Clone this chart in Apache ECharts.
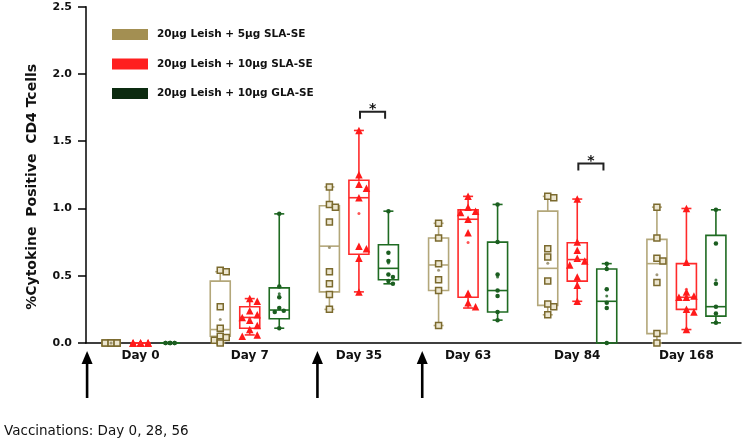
<!DOCTYPE html>
<html>
<head>
<meta charset="utf-8">
<script src="https://cdn.jsdelivr.net/npm/echarts@6/dist/echarts.min.js"></script>
<style>html,body{margin:0;padding:0;background:#fff}#c{width:744px;height:440px}</style>
</head>
<body>
<div id="c"></div>
<script>
// ---------- DATA ----------
const categories = ['Day 0', 'Day 7', 'Day 35', 'Day 63', 'Day 84', 'Day 168'];
const seriesNames = ['20μg Leish + 5μg SLA-SE', '20μg Leish + 10μg SLA-SE', '20μg Leish + 10μg GLA-SE'];
const yTicks = [0, 0.5, 1.0, 1.5, 2.0, 2.5];

// box stats per category: [min, q1, median, q3, max]
const tanBox = [
  [0, 0, 0, 0, 0],
  [0.0, 0.05, 0.10, 0.46, 0.53],
  [0.25, 0.38, 0.72, 1.02, 1.16],
  [0.13, 0.39, 0.58, 0.78, 0.89],
  [0.21, 0.28, 0.555, 0.98, 1.09],
  [0.0, 0.07, 0.59, 0.77, 1.01]
];
const redBox = [
  [0, 0, 0, 0, 0],
  [0.06, 0.11, 0.19, 0.27, 0.33],
  [0.38, 0.66, 1.08, 1.21, 1.58],
  [0.26, 0.34, 0.92, 0.99, 1.09],
  [0.31, 0.46, 0.62, 0.745, 1.07],
  [0.10, 0.25, 0.34, 0.59, 1.0]
];
const greenBox = [
  [0, 0, 0, 0, 0],
  [0.11, 0.18, 0.245, 0.41, 0.96],
  [0.44, 0.47, 0.555, 0.73, 0.98],
  [0.17, 0.23, 0.39, 0.75, 1.03],
  [0.0, 0.0, 0.31, 0.55, 0.59],
  [0.15, 0.20, 0.27, 0.80, 0.99]
];

// individual animals per category
const tanPoints = [
  [0, 0, 0, 0, 0, 0, 0, 0],
  [0.54, 0.53, 0.27, 0.11, 0.05, 0.04, 0.02, 0.01, 0.0],
  [1.16, 1.03, 1.01, 0.90, 0.53, 0.44, 0.36, 0.25],
  [0.89, 0.78, 0.59, 0.47, 0.39, 0.13],
  [1.09, 1.08, 0.70, 0.64, 0.46, 0.29, 0.27, 0.21],
  [1.01, 0.78, 0.63, 0.61, 0.45, 0.07, 0.0]
];
const redPoints = [
  [0, 0, 0, 0, 0, 0, 0, 0, 0],
  [0.33, 0.31, 0.24, 0.21, 0.19, 0.17, 0.13, 0.10, 0.06, 0.05],
  [1.58, 1.25, 1.18, 1.15, 1.08, 0.72, 0.70, 0.63, 0.38],
  [1.09, 1.01, 0.98, 0.97, 0.92, 0.82, 0.37, 0.30, 0.27],
  [1.07, 0.75, 0.69, 0.63, 0.61, 0.58, 0.49, 0.43, 0.31],
  [1.0, 0.60, 0.38, 0.35, 0.34, 0.34, 0.25, 0.23, 0.10]
];
const greenPoints = [
  [0, 0, 0, 0, 0, 0, 0],
  [0.96, 0.42, 0.34, 0.26, 0.24, 0.23, 0.11],
  [0.98, 0.67, 0.61, 0.51, 0.49, 0.46, 0.44],
  [1.03, 0.75, 0.51, 0.39, 0.35, 0.23, 0.17],
  [0.59, 0.55, 0.40, 0.30, 0.26, 0.0],
  [0.99, 0.74, 0.44, 0.27, 0.22, 0.15]
];

// significance brackets (category index, bracket height)
const sigCategories = [2, 4];
const sigHeights = [1.72, 1.335];
// vaccination arrows, in category-axis units
const vaccinationMarks = [-0.49, 1.62, 2.58];
const footnote = 'Vaccinations: Day 0, 28, 56';

// ---------- LAYOUT / STYLE ----------
const FONT = '"DejaVu Sans", sans-serif';
const grid = { left: 86, right: 3, top: 6.7, bottom: 97 };
const W = 744, H = 440;
const pxPerBand = (W - grid.left - grid.right) / categories.length;
const pxPerY = (H - grid.top - grid.bottom) / 2.5;
const groupOffset = 29.5 / pxPerBand;   // band units between groups
const boxWidthBand = 20 / pxPerBand;

const groups = [
  { name: seriesNames[0], box: tanBox, pts: tanPoints, boxColor: '#b3a77a', legend: '#a38f52',
    symbol: 'rect', size: 6, fill: '#ece6d0', border: '#7b6a2e', bw: 1.5, meanColor: '#8a7f5a' },
  { name: seriesNames[1], box: redBox, pts: redPoints, boxColor: '#ff2a2a', legend: '#ff1f1f',
    symbol: 'triangle', size: 7.5, fill: '#ff1a1a', border: '#ff1a1a', bw: 0, meanColor: '#ff2a2a' },
  { name: seriesNames[2], box: greenBox, pts: greenPoints, boxColor: '#1f6b22', legend: '#0c2b10',
    symbol: 'circle', size: 4.5, fill: '#1b5e20', border: '#1b5e20', bw: 0, meanColor: '#1b5e20' }
];

// simple deterministic beeswarm: spread overlapping points sideways
function swarm(vals, size) {
  const order = vals.map((v, i) => i).sort((a, b) => vals[b] - vals[a]);
  const placed = [];
  const out = new Array(vals.length).fill(0);
  const d = size * 1.0;
  const cands = [0, d, -d];
  order.forEach(i => {
    const y = vals[i] * pxPerY;
    let best = 0, bestHits = Infinity;
    for (const c of cands) {
      let hits = 0;
      for (const p of placed) {
        if (Math.hypot(p[0] - c, p[1] - y) < size * 0.9) hits++;
      }
      if (hits < bestHits) { bestHits = hits; best = c; }
      if (hits === 0) break;
    }
    placed.push([best, y]);
    out[i] = best;
  });
  return out;
}

const series = [];
groups.forEach((g, gi) => {
  const off = (gi - 1) * groupOffset;
  // boxes
  series.push({
    name: g.name,
    type: 'custom',
    xAxisIndex: 1,
    yAxisIndex: 0,
    z: 2,
    clip: false,
    data: g.box.map((b, ci) => [ci + off].concat(b)),
    encode: { x: 0, y: [1, 2, 3, 4, 5] },
    renderItem: function (params, api) {
      const x = api.value(0);
      const pMin = api.coord([x, api.value(1)]);
      const pQ1 = api.coord([x, api.value(2)]);
      const pMed = api.coord([x, api.value(3)]);
      const pQ3 = api.coord([x, api.value(4)]);
      const pMax = api.coord([x, api.value(5)]);
      const half = api.size([boxWidthBand, 0])[0] / 2;
      const cap = 5;
      const cx = pMin[0];
      const st = { stroke: g.boxColor, lineWidth: 1.6, fill: null };
      return {
        type: 'group',
        children: [
          { type: 'line', shape: { x1: cx, y1: pMax[1], x2: cx, y2: pQ3[1] }, style: st },
          { type: 'line', shape: { x1: cx, y1: pQ1[1], x2: cx, y2: pMin[1] }, style: st },
          { type: 'line', shape: { x1: cx - cap, y1: pMax[1], x2: cx + cap, y2: pMax[1] }, style: st },
          { type: 'line', shape: { x1: cx - cap, y1: pMin[1], x2: cx + cap, y2: pMin[1] }, style: st },
          { type: 'rect', shape: { x: cx - half, y: pQ3[1], width: half * 2, height: pQ1[1] - pQ3[1] }, style: st },
          { type: 'line', shape: { x1: cx - half, y1: pMed[1], x2: cx + half, y2: pMed[1] }, style: st }
        ]
      };
    }
  });
  // points
  const ptData = [];
  g.pts.forEach((vals, ci) => {
    const dx = swarm(vals, g.size);
    vals.forEach((v, k) => ptData.push([ci + off + dx[k] / pxPerBand, v]));
  });
  series.push({
    name: g.name,
    type: 'scatter',
    xAxisIndex: 1,
    yAxisIndex: 0,
    z: 3,
    symbol: g.symbol,
    symbolSize: g.size,
    itemStyle: { color: g.fill, borderColor: g.border, borderWidth: g.bw, opacity: 1 },
    data: ptData,
    silent: true
  });
  // means
  series.push({
    name: g.name,
    type: 'scatter',
    xAxisIndex: 1,
    yAxisIndex: 0,
    z: 4,
    symbol: 'circle',
    symbolSize: 3,
    itemStyle: { color: g.meanColor },
    data: g.pts.map((vals, ci) => [ci + off, vals.reduce((a, b) => a + b, 0) / vals.length]),
    silent: true
  });
});

// significance brackets
series.push({
  type: 'custom',
  xAxisIndex: 1,
  yAxisIndex: 0,
  z: 5,
  clip: false,
  data: sigCategories.map((c, i) => [c, sigHeights[i]]),
  renderItem: function (params, api) {
    const c = api.value(0), y = api.value(1);
    const p1 = api.coord([c + 0.01, y]);
    const p2 = api.coord([c + 0.24, y]);
    return {
      type: 'group',
      children: [
        { type: 'polyline', shape: { points: [[p1[0], p1[1] + 7], p1, p2, [p2[0], p2[1] + 7]] },
          style: { stroke: '#222', lineWidth: 2, fill: null } },
        { type: 'text', style: { text: '*', x: (p1[0] + p2[0]) / 2, y: p1[1] - 2, align: 'center', verticalAlign: 'middle',
          font: 'bold 14px ' + FONT, fill: '#111' } }
      ]
    };
  }
});

// vaccination arrows
series.push({
  type: 'custom',
  xAxisIndex: 1,
  yAxisIndex: 0,
  z: 5,
  clip: false,
  data: vaccinationMarks.map(v => [v]),
  encode: { x: 0 },
  renderItem: function (params, api) {
    const p = api.coord([api.value(0), 0]);
    const x = p[0], tip = p[1] + 8, base = p[1] + 55;
    return {
      type: 'group',
      children: [
        { type: 'line', shape: { x1: x, y1: tip + 10, x2: x, y2: base }, style: { stroke: '#000', lineWidth: 2.6 } },
        { type: 'polygon', shape: { points: [[x - 5.5, tip + 13], [x, tip], [x + 5.5, tip + 13]] }, style: { fill: '#000' } }
      ]
    };
  }
});

const chart = echarts.init(document.getElementById('c'), null, { renderer: 'canvas' });
chart.setOption({
  animation: false,
  backgroundColor: '#fff',
  textStyle: { fontFamily: FONT },
  grid: grid,
  legend: {
    orient: 'vertical',
    left: 112,
    top: 29,
    padding: 0,
    itemWidth: 36,
    itemHeight: 11,
    itemGap: 18.5,
    selectedMode: false,
    icon: 'rect',
    itemStyle: { borderWidth: 0 },
    textStyle: { fontFamily: FONT, fontWeight: 'bold', fontSize: 10.5, color: '#111', lineHeight: 11, padding: [0, 0, 0, 4] },
    data: groups.map(g => ({ name: g.name, itemStyle: { color: g.legend, borderWidth: 0 } }))
  },
  xAxis: [
    {
      type: 'category',
      data: categories,
      boundaryGap: true,
      axisLine: { lineStyle: { color: '#000', width: 1.5 } },
      axisTick: { alignWithLabel: true, length: 6, lineStyle: { color: '#000', width: 1.5 } },
      axisLabel: { color: '#111', fontWeight: 'bold', fontSize: 12, margin: 7, fontFamily: FONT },
      splitLine: { show: false }
    },
    {
      type: 'value',
      min: -0.5,
      max: categories.length - 0.5,
      show: false,
      splitLine: { show: false }
    }
  ],
  yAxis: {
    type: 'value',
    min: yTicks[0],
    max: yTicks[yTicks.length - 1],
    interval: 0.5,
    name: '%Cytokine  Positive  CD4 Tcells',
    nameLocation: 'middle',
    nameRotate: 90,
    nameGap: 47,
    nameTextStyle: { color: '#111', fontWeight: 'bold', fontSize: 14, fontFamily: FONT, padding: [0, 24, 0, 0] },
    axisLine: { show: true, onZero: false, lineStyle: { color: '#000', width: 1.5 } },
    axisTick: { show: true, length: 8, lineStyle: { color: '#000', width: 1.5 } },
    axisLabel: { color: '#111', fontWeight: 'bold', fontSize: 11, margin: 14, fontFamily: FONT,
      formatter: v => v.toFixed(1) },
    splitLine: { show: false }
  },
  graphic: [
    { type: 'text', left: 4, top: 424, style: { text: footnote, font: '13.5px ' + FONT, fill: '#111' } }
  ],
  series: series
});
</script>
</body>
</html>
